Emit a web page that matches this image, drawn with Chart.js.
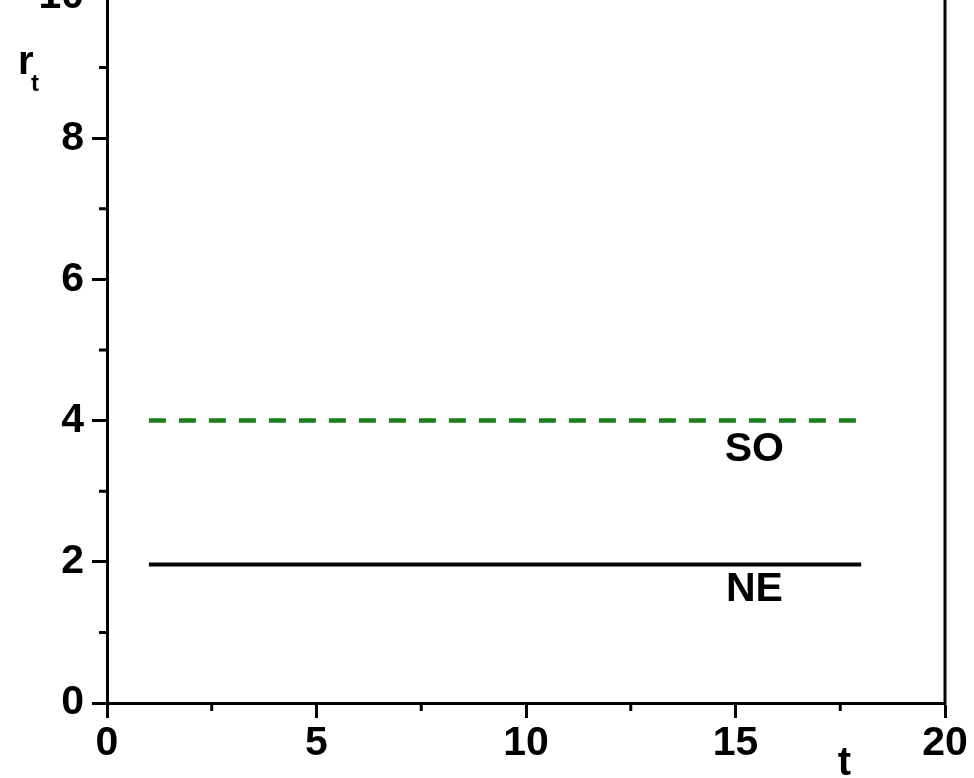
<!DOCTYPE html>
<html>
<head>
<meta charset="utf-8">
<script src="https://cdn.jsdelivr.net/npm/chart.js@4/dist/chart.umd.min.js"></script>
<style>
  html, body { margin: 0; padding: 0; background: #fff; overflow: hidden; }
  #wrap { position: absolute; left: 0; top: -40px; width: 974px; height: 818px; }
</style>
</head>
<body>
<div id="wrap"><canvas id="myChart" width="974" height="818"></canvas></div>
<script>
// time steps and the two series
var tiempo = [1, 2, 3, 4, 5, 6, 7, 8, 9, 10, 11, 12, 13, 14, 15, 16, 17, 18];
var serieSO = [4, 4, 4, 4, 4, 4, 4, 4, 4, 4, 4, 4, 4, 4, 4, 4, 4, 4];
var serieNE = [1.96, 1.96, 1.96, 1.96, 1.96, 1.96, 1.96, 1.96, 1.96, 1.96, 1.96, 1.96, 1.96, 1.96, 1.96, 1.96, 1.96, 1.96];
var xMinor = [2.5, 7.5, 12.5, 17.5];
var yMinor = [1, 3, 5, 7, 9];

// text labels placed in data units
var etiquetas = [
    { text: 'SO', x: 15.45, y: 3.59 },
    { text: 'NE', x: 15.45, y: 1.61 }
];

const FONT = '"Liberation Sans", Arial, sans-serif';

function puntos(xs, ys) {
    var out = [];
    for (let i = 0; i < xs.length; i++) {
        out.push({ x: xs[i], y: ys[i] });
    }
    return out;
}

const marcoPlugin = {
    id: 'marco',
    afterDraw(chart) {
        const ctx = chart.ctx;
        const xs = chart.scales.x;
        const ys = chart.scales.y;
        const area = chart.chartArea;
        ctx.save();
        ctx.strokeStyle = '#000';
        ctx.lineWidth = 3;
        // right and top frame
        ctx.beginPath();
        ctx.moveTo(area.right, area.bottom + 1.5);
        ctx.lineTo(area.right, area.top);
        ctx.lineTo(area.left, area.top);
        ctx.stroke();
        // minor ticks
        ctx.beginPath();
        xMinor.forEach(function (v) {
            const px = xs.getPixelForValue(v);
            ctx.moveTo(px, area.bottom);
            ctx.lineTo(px, area.bottom + 8);
        });
        yMinor.forEach(function (v) {
            const py = ys.getPixelForValue(v);
            ctx.moveTo(area.left, py);
            ctx.lineTo(area.left - 8, py);
        });
        ctx.stroke();
        // annotations
        ctx.fillStyle = '#000';
        ctx.textAlign = 'center';
        ctx.textBaseline = 'middle';
        ctx.font = 'bold 41px ' + FONT;
        etiquetas.forEach(function (e) {
            ctx.fillText(e.text, xs.getPixelForValue(e.x), ys.getPixelForValue(e.y));
        });
        // axis titles
        ctx.font = 'bold 40px ' + FONT;
        ctx.textBaseline = 'alphabetic';
        ctx.fillText('t', xs.getPixelForValue(17.6), area.bottom + 72);
        ctx.textAlign = 'left';
        ctx.font = 'bold 40px ' + FONT;
        ctx.fillText('r', 18, ys.getPixelForValue(9.05) + 10);
        ctx.font = 'bold 24px ' + FONT;
        ctx.fillText('t', 31, ys.getPixelForValue(9.05) + 27);
        ctx.restore();
    }
};

const config = {
    type: 'line',
    data: {
        datasets: [{
            label: 'SO',
            data: puntos(tiempo, serieSO),
            borderColor: 'rgb(27, 125, 27)',
            borderWidth: 4.5,
            borderDash: [17, 13],
            pointRadius: 0,
            fill: false
        }, {
            label: 'NE',
            data: puntos(tiempo, serieNE),
            borderColor: '#000',
            borderWidth: 4,
            pointRadius: 0,
            fill: false
        }]
    },
    options: {
        responsive: false,
        animation: false,
        layout: { padding: { top: 37, right: 29, left: 0, bottom: 0 } },
        plugins: {
            legend: { display: false },
            tooltip: { enabled: false }
        },
        scales: {
            x: {
                type: 'linear',
                min: 0,
                max: 20,
                afterFit(scale) { scale.height = 75; },
                ticks: {
                    stepSize: 5,
                    color: '#000',
                    padding: 1,
                    maxRotation: 0,
                    font: { family: FONT, size: 41, weight: 'bold' }
                },
                grid: {
                    drawOnChartArea: false,
                    tickLength: 15,
                    tickWidth: 3,
                    tickColor: '#000'
                },
                border: { display: true, color: '#000', width: 3 }
            },
            y: {
                min: 0,
                max: 10,
                afterFit(scale) { scale.width = 107; },
                ticks: {
                    stepSize: 2,
                    color: '#000',
                    padding: 8,
                    font: { family: FONT, size: 41, weight: 'bold' }
                },
                grid: {
                    drawOnChartArea: false,
                    tickLength: 15,
                    tickWidth: 3,
                    tickColor: '#000'
                },
                border: { display: true, color: '#000', width: 3 }
            }
        }
    },
    plugins: [marcoPlugin]
};

const myChart = new Chart(document.getElementById('myChart'), config);
</script>
</body>
</html>
